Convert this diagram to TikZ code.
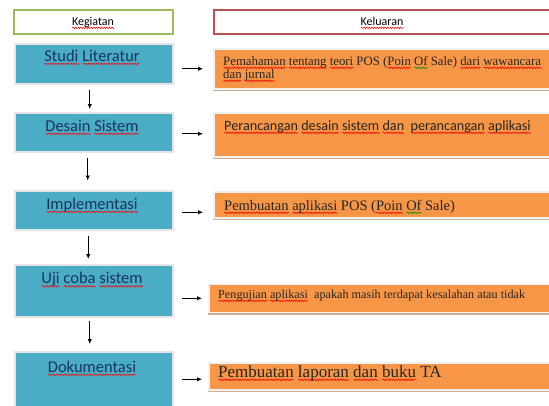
\documentclass[tikz,border=0pt]{standalone}
\usepackage{fontspec}
\setmainfont{Liberation Serif}
\newfontfamily\calfont{Carlito}
\usetikzlibrary{calc,arrows.meta,decorations.pathmorphing}
\definecolor{boxblue}{HTML}{4BACC6}
\definecolor{boxorange}{HTML}{F79646}
\definecolor{navy}{HTML}{17365D}
\definecolor{hdrgreen}{HTML}{9BBB59}
\definecolor{hdrred}{HTML}{C0504D}
\definecolor{shadowtan}{HTML}{D2AE93}
\definecolor{txtdark}{HTML}{262626}
\newsavebox\wavebox
\newdimen\wavewd
\newcommand\wavyline[2]{\leavevmode\sbox\wavebox{#2}\wavewd=\wd\wavebox\relax
  \rlap{\tikz[baseline=0pt]\draw[#1, line width=0.5pt, decorate,
      decoration={snake, amplitude=0.8pt, segment length=2.6pt}] (0pt,-2.8pt) -- (\wavewd,-2.8pt);}%
  \usebox\wavebox}
\newcommand\rw[1]{\wavyline{red}{#1}}
\newcommand\gw[1]{\wavyline{green!55!black}{#1}}
\begin{document}
\begin{tikzpicture}[x=1pt,y=-1pt,
  hdr/.style={draw, line width=1.8pt, fill=white, inner sep=0pt, anchor=north west},
  bluebox/.style={fill=boxblue, draw=black!10, line width=1.5pt, inner sep=0pt, anchor=north west},
  bshadow/.style={fill=black!22, draw=none, inner sep=0pt, anchor=north west},
  orangebox/.style={fill=boxorange, draw=black!6, line width=1.5pt, inner sep=0pt, anchor=north west},
  oshadow/.style={fill=shadowtan, draw=none, inner sep=0pt, anchor=north west},
  hdrtext/.style={font=\calfont\fontsize{12}{14}\selectfont, anchor=base, inner sep=0pt},
  bluetext/.style={font=\calfont\fontsize{16.5}{20}\selectfont, text=navy, anchor=base, inner sep=0pt},
  otext/.style={text=txtdark, anchor=base west, inner sep=0pt},
  arr/.style={-{Latex[length=5pt,width=4.5pt]}, line width=0.9pt, black}
]
\clip (0,0) rectangle (549,405);
\fill[white] (0,0) rectangle (549,405);

% headers
\node[hdr, draw=hdrgreen, minimum width=159pt, minimum height=24pt] (hk) at (13,9) {};
\node[hdr, draw=hdrred, minimum width=345pt, minimum height=24pt] (hl) at (213,9) {};
\node[hdrtext] (tk) at (93,25) {\rw{Kegiatan}};
\node[hdrtext] (tl) at (382,25) {\rw{Keluaran}};

% blue boxes with shadows
\node[bshadow, minimum width=158pt, minimum height=40pt] (sh1) at (16,45) {};
\node[bluebox, minimum width=158pt, minimum height=40pt] (s1) at (14,43) {};
\node[bshadow, minimum width=158pt, minimum height=39pt] (sh2) at (16,114) {};
\node[bluebox, minimum width=158pt, minimum height=39pt] (s2) at (14,112) {};
\node[bshadow, minimum width=158pt, minimum height=39pt] (sh3) at (16,192) {};
\node[bluebox, minimum width=158pt, minimum height=39pt] (s3) at (14,190) {};
\node[bshadow, minimum width=158pt, minimum height=52pt] (sh4) at (16,266) {};
\node[bluebox, minimum width=158pt, minimum height=52pt] (s4) at (14,264) {};
\node[bshadow, minimum width=158pt, minimum height=62pt] (sh5) at (16,353) {};
\node[bluebox, minimum width=158pt, minimum height=62pt] (s5) at (14,351) {};

\node[bluetext] (ts1) at (92,61) {\rw{Studi} \rw{Literatur}};
\node[bluetext] (ts2) at (92,131) {\rw{Desain} \rw{Sistem}};
\node[bluetext] (ts3) at (92,209) {\rw{Implementasi}};
\node[bluetext] (ts4) at (92,283.5) {\rw{Uji} \rw{coba} \rw{sistem}};
\node[bluetext] (ts5) at (92,372) {\rw{Dokumentasi}};

% orange boxes with shadows
\node[oshadow, minimum width=342pt, minimum height=40pt] (osh1) at (213,51) {};
\node[orangebox, minimum width=342pt, minimum height=40pt] (o1) at (213,48) {};
\node[oshadow, minimum width=342pt, minimum height=44pt] (osh2) at (213,115) {};
\node[orangebox, minimum width=342pt, minimum height=44pt] (o2) at (213,112) {};
\node[oshadow, minimum width=342pt, minimum height=26pt] (osh3) at (213,194) {};
\node[orangebox, minimum width=342pt, minimum height=26pt] (o3) at (213,191) {};
\node[oshadow, minimum width=347pt, minimum height=28pt] (osh4) at (208,286.5) {};
\node[orangebox, minimum width=347pt, minimum height=28pt] (o4) at (208,283.5) {};
\node[oshadow, minimum width=347pt, minimum height=27pt] (osh5) at (208,365) {};
\node[orangebox, minimum width=347pt, minimum height=27pt] (o5) at (208,362) {};

\node[otext, font=\fontsize{12.8}{13}\selectfont] (to1) at (223,65)
  {\parbox[t]{325pt}{\rw{Pemahaman} \rw{tentang} \rw{teori} POS (\rw{Poin} \gw{Of} Sale) \rw{dari} \rw{wawancara}\\ \rw{dan} \rw{jurnal}}};
\node[otext, font=\calfont\fontsize{14.2}{16}\selectfont] (to2) at (224,130)
  {\rw{Perancangan} \rw{desain} \rw{sistem} \rw{dan}\ \ \rw{perancangan} \rw{aplikasi}};
\node[otext, font=\fontsize{14.5}{16}\selectfont] (to3) at (224,210)
  {\rw{Pembuatan} \rw{aplikasi} POS (\rw{Poin} \gw{Of} Sale)};
\node[otext, font=\fontsize{12.2}{14}\selectfont] (to4) at (218,298)
  {\rw{Pengujian} \rw{aplikasi}\ \ apakah masih terdapat kesalahan atau tidak};
\node[otext, font=\fontsize{17}{19}\selectfont] (to5) at (218,377)
  {\rw{Pembuatan} \rw{laporan} \rw{dan} \rw{buku} TA};

% horizontal arrows
\draw[arr] ($(s1.east |- o1.west)+(8,0)$) -- ($(o1.west)+(-10,0)$);
\draw[arr] ($(s2.east |- o2.west)+(8,-1)$) -- ($(o2.west)+(-10,-1)$);
\draw[arr] ($(s3.east)+(8,2)$) -- ($(s3.east -| o3.west)+(-10,2)$);
\draw[arr] ($(s4.east |- o4.west)+(8,0)$) -- ($(o4.west)+(-6,0)$);
\draw[arr] ($(s5.east |- o5.west)+(8,3)$) -- ($(o5.west)+(-6,3)$);

% vertical arrows
\draw[arr, shorten <=5pt, shorten >=3pt] ([xshift=-4pt]s1.south) -- ([xshift=-4pt]s2.north);
\draw[arr, shorten <=5pt, shorten >=9.5pt] ([xshift=-6pt]s2.south) -- ([xshift=-6pt]s3.north);
\draw[arr, shorten <=5.5pt, shorten >=5pt] ([xshift=-5.5pt]s3.south) -- ([xshift=-5.5pt]s4.north);
\draw[arr, shorten <=3pt, shorten >=7pt] ([xshift=-4pt]s4.south) -- ([xshift=-4pt]s5.north);
\end{tikzpicture}
\end{document}
